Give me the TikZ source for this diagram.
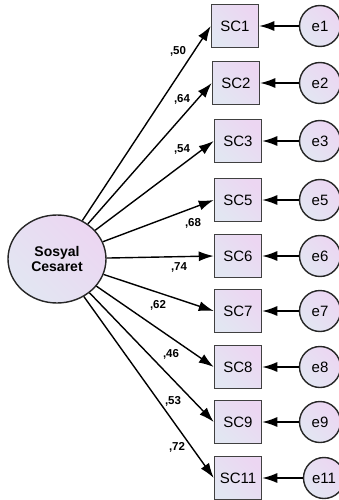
\documentclass[tikz,border=0pt]{standalone}
\usepackage{fontspec}
\setmainfont{Liberation Sans}
\usetikzlibrary{arrows.meta,shapes.geometric}

\definecolor{fillA}{RGB}{226,230,242}
\definecolor{fillB}{RGB}{236,214,242}

\tikzset{
  shade/.style={left color=fillA, right color=fillB, shading angle=135},
  latent/.style={draw=black!85, line width=1.4pt, ellipse, shade, minimum width=98pt, minimum height=88pt,
                 inner sep=0pt, align=center, font=\fontsize{14}{15}\selectfont\bfseries},
  obs/.style={draw=black!75, line width=1.5pt, rectangle, shade, minimum width=47pt, minimum height=43pt,
              inner sep=0pt, font=\fontsize{15}{15}\selectfont},
  err/.style={draw=black!85, line width=1.4pt, circle, shade, minimum size=41pt, inner sep=0pt,
              font=\fontsize{15}{15}\selectfont},
  load/.style={font=\fontsize{11.5}{12}\selectfont\bfseries},
  path/.style={line width=1.4pt, -{Latex[length=15pt,width=10pt]}}
}

\begin{document}
\begin{tikzpicture}[x=1pt, y=-1pt]

    \useasboundingbox (0,0) rectangle (339,500);

    % Key x-values
    \def\Xe{320}

    % Latent factor
    \node[latent] (sc) at (57,259) {Sosyal\\Cesaret};

    % Items
    \node[obs] (sc1)  at (235,26)  {SC1};
    \node[obs] (sc2)  at (236,83)  {SC2};
    \node[obs] (sc3)  at (238,141) {SC3};
    \node[obs] (sc5)  at (238,200) {SC5};
    \node[obs] (sc6)  at (238,256) {SC6};
    \node[obs] (sc7)  at (238,311) {SC7};
    \node[obs] (sc8)  at (238,367) {SC8};
    \node[obs] (sc9)  at (238,422) {SC9};
    \node[obs] (sc11) at (238,478) {SC11};

    % Errors
    \node[err] (e1)  at (\Xe,26)  {e1};
    \node[err] (e2)  at (\Xe,83)  {e2};
    \node[err] (e3)  at (\Xe,141) {e3};
    \node[err] (e5)  at (\Xe,200) {e5};
    \node[err] (e6)  at (\Xe,256) {e6};
    \node[err] (e7)  at (\Xe,311) {e7};
    \node[err] (e8)  at (\Xe,367) {e8};
    \node[err] (e9)  at (\Xe,422) {e9};
    \node[err] (e11) at (324,478) {e11};

    % Loadings
    \foreach \i in {1,2,3,5,6,7,8,9,11}{
        \draw[path] (sc) -- (sc\i.west);
        \draw[path] (e\i) -- (sc\i);
    }

    % Standardized estimates
    \node[load] (l1)  at (178,51)  {,50};
    \node[load] (l2)  at (182,99)  {,64};
    \node[load] (l3)  at (182,149) {,54};
    \node[load] (l5)  at (193,223) {,68};
    \node[load] (l6)  at (179,267) {,74};
    \node[load] (l7)  at (158,305) {,62};
    \node[load] (l8)  at (171,354) {,46};
    \node[load] (l9)  at (173,401) {,53};
    \node[load] (l11) at (177,447) {,72};

\end{tikzpicture}
\end{document}
